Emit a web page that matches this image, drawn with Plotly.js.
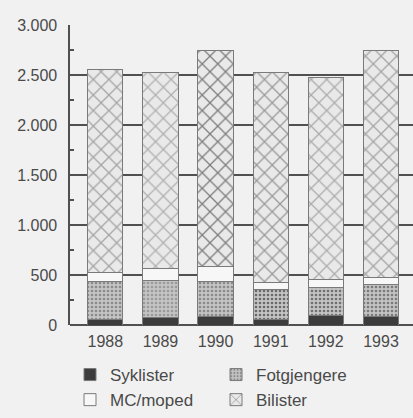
<!DOCTYPE html>
<html>
<head>
<meta charset="utf-8">
<script src="https://cdn.plot.ly/plotly-3.0.1.min.js"></script>
<style>html,body{margin:0;padding:0;background:#f1f1f1;}#chart{width:413px;height:418px;}</style>
</head>
<body>
<div id="chart"></div>
<script>
var years = ["1988", "1989", "1990", "1991", "1992", "1993"];
var syklister = [60, 80, 90, 60, 100, 90];
var fotgjengere = [380, 370, 350, 300, 280, 320];
var mcmoped = [90, 120, 150, 70, 80, 70];
var bilister = [2030, 1960, 2160, 2100, 2020, 2270];
var yTicks = [0, 500, 1000, 1500, 2000, 2500, 3000];

var FONT = '"Liberation Sans", Arial, Helvetica, sans-serif';
var edge = {color: '#7a7a7a', width: 1};

var traces = [
  {type: 'bar', name: 'Syklister', x: years, y: syklister,
   marker: {color: '#3c3c3c', line: edge}},
  {type: 'bar', name: 'Fotgjengere', x: years, y: fotgjengere,
   marker: {color: '#b5b5b5', line: edge,
            pattern: {shape: '.', fgcolor: ['#8a8a8a', '#9a9a9a', '#8a8a8a', '#6a6a6a', '#707070', '#7a7a7a'],
                      bgcolor: '#c4c4c4', size: 4, solidity: 0.35}}},
  {type: 'bar', name: 'MC/moped', x: years, y: mcmoped,
   marker: {color: '#f7f7f7', line: edge}},
  {type: 'bar', name: 'Bilister', x: years, y: bilister,
   marker: {color: '#e6e6e6', line: edge,
            pattern: {shape: 'x', fgcolor: ['#a5a5a5', '#b0b0b0', '#7e7e7e', '#9a9a9a', '#acacac', '#a5a5a5'],
                      bgcolor: '#e9e9e9', size: 11, solidity: 0.22}}}
];

var layout = {
  width: 413, height: 418,
  paper_bgcolor: '#f1f1f1', plot_bgcolor: '#f1f1f1',
  margin: {l: 70, r: 0, t: 25, b: 93},
  barmode: 'stack',
  bargap: 0.36,
  separators: ',.',
  font: {family: FONT, color: '#4a4a4a', size: 16},
  xaxis: {
    type: 'category', range: [-0.64, 5.58],
    showgrid: false, showline: false, zeroline: false,
    ticks: '', tickfont: {family: FONT, size: 16, color: '#4a4a4a'},
    ticklabelstandoff: 5
  },
  yaxis: {
    range: [0, 3000], tickvals: yTicks, tickformat: ',d',
    showgrid: true, gridcolor: '#505050', gridwidth: 1.6,
    showline: true, linecolor: '#505050', linewidth: 1.6,
    zeroline: true, zerolinecolor: '#505050', zerolinewidth: 1.6,
    ticks: 'inside', ticklen: 6, tickcolor: '#505050', tickwidth: 1.5,
    minor: {dtick: 250, ticks: 'inside', ticklen: 4, tickcolor: '#505050', tickwidth: 1.5, showgrid: false},
    tickfont: {family: FONT, size: 16, color: '#4a4a4a'},
    ticklabelstandoff: 8
  },
  showlegend: true,
  legend: {
    orientation: 'h', x: 0, xanchor: 'left', y: -0.31, yanchor: 'bottom',
    traceorder: 'normal', entrywidth: 101, entrywidthmode: 'pixels',
    font: {family: FONT, size: 17, color: '#4a4a4a'},
    bgcolor: 'rgba(0,0,0,0)'
  }
};

Plotly.newPlot('chart', traces, layout, {displayModeBar: false, staticPlot: true});
</script>
</body>
</html>
